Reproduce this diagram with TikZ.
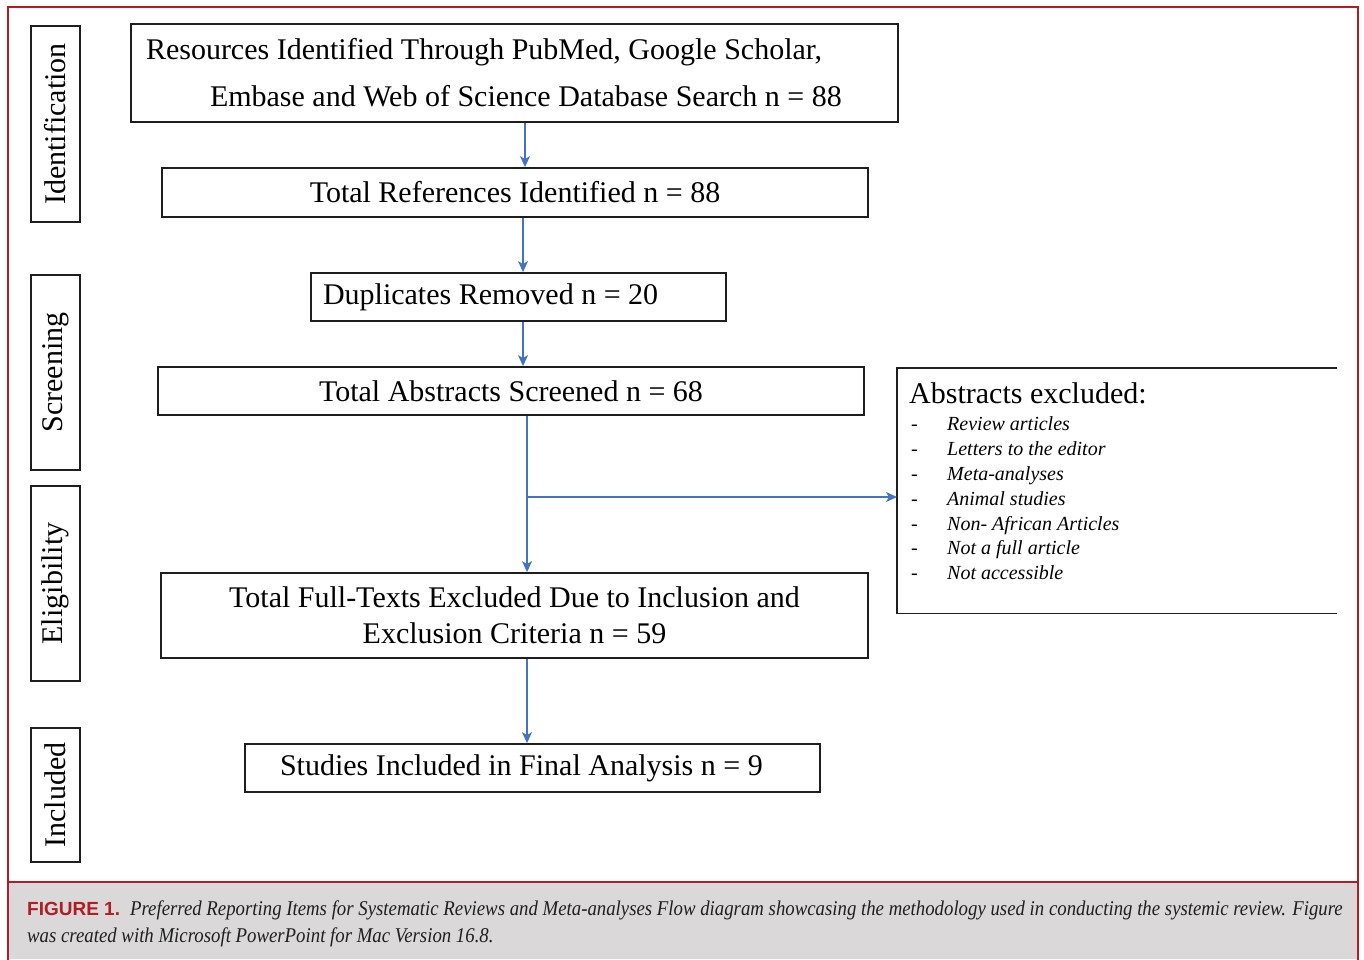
\documentclass[tikz,border=0pt]{standalone}
\usepackage{fontspec}
\setmainfont{Liberation Serif}
\setsansfont{Liberation Sans}
\newfontfamily\capfont[FakeStretch=0.895]{Liberation Serif}
\usetikzlibrary{arrows.meta}
\definecolor{figred}{RGB}{176,30,36}
\definecolor{capgray}{RGB}{218,216,217}
\definecolor{flowblue}{RGB}{68,114,196}
\definecolor{boxline}{RGB}{30,30,30}

\begin{document}
\begin{tikzpicture}[x=1pt,y=-1pt,
	box/.style={draw=boxline,line width=1.8pt,inner sep=0pt,align=center,
		font=\fontsize{30}{36}\selectfont},
	phase/.style={box,rotate=90,minimum height=49pt},
	flow/.style={draw=flowblue,line width=1.3pt,-{Stealth[length=11pt,width=10pt,inset=3pt]}},
	item/.style={anchor=base west,inner sep=0pt,font=\fontsize{20}{24}\selectfont}]
	\useasboundingbox (0,0) rectangle (1364,959);
	\fill[capgray] (8,882) rectangle (1358,959);
	\draw[figred,line width=2.6pt] (8,962) -- (8,7) -- (1358,7) -- (1358,962);
	\draw[figred,line width=2.4pt] (8,882) -- (1358,882);
	
	\node[phase,minimum width=196pt] (pid) at (55.5,124) {Identification};
	\node[phase,minimum width=195pt] (pscr) at (55.5,372.5) {Screening};
	\node[phase,minimum width=195pt] (pel) at (55.5,583.5) {Eligibility};
	\node[phase,minimum width=134pt] (pinc) at (55.5,795) {Included};
	
	\node[box,minimum height=98pt,text width=737pt,inner xsep=15pt,align=flush left,
		font=\fontsize{30}{47}\selectfont] (res) at (514.5,73)
		{Resources Identified Through PubMed, Google Scholar,\\
		\hspace*{64pt}Embase and Web of Science Database Search n = 88};
	\node[box,minimum width=706pt,minimum height=49pt] (tot) at (515,192.5) {Total References Identified n = 88};
	\node[box,minimum height=48pt,text width=391pt,inner xsep=12pt,align=flush left] (dup) at (518.5,297) {Duplicates Removed n = 20};
	\node[box,minimum width=706pt,minimum height=48pt] (scr) at (511,391) {Total Abstracts Screened n = 68};
	\node[box,minimum width=707pt,minimum height=85pt] (full) at (514.5,615.5)
		{Total Full-Texts Excluded Due to Inclusion and\\Exclusion Criteria n = 59};
	\node[box,minimum height=48pt,text width=505pt,inner xsep=35pt,align=flush left] (incl) at (532.5,768) {Studies Included in Final Analysis n = 9};
	
	\node[minimum width=440pt,minimum height=245pt,inner sep=0pt,anchor=north west] (excl) at (897,368) {};
	\draw[boxline,line width=1.8pt] (excl.north east) -- (excl.north west) -- (excl.south west) -- (excl.south east);
	\node[anchor=base west,inner sep=0pt,font=\fontsize{30}{36}\selectfont] (exhead) at (909,403) {Abstracts excluded:};
	\foreach \t [count=\i] in {Review articles,Letters to the editor,Meta-analyses,Animal studies,
		Non- African Articles,Not a full article,Not accessible}
		\node[item] (ex\i) at (911,405.5+24.9*\i) {\makebox[36pt][l]{-}\textit{\t}};
	
	\coordinate (a1) at (525,0);
	\coordinate (a2) at (523,0);
	\coordinate (a3) at (527,497);
	\draw[flow] (res.south -| a1) -- (tot.north -| a1);
	\draw[flow] (tot.south -| a2) -- (dup.north -| a2);
	\draw[flow] (dup.south -| a2) -- (scr.north -| a2);
	\draw[flow] (scr.south -| a3) -- (full.north -| a3);
	\draw[flow] (a3) -- (a3 -| excl.west);
	\draw[flow] (full.south -| a3) -- (incl.north -| a3);
	
	\node[anchor=base west,inner sep=0pt,align=left,text=black!88,
		font=\capfont\itshape\fontsize{21}{26.5}\selectfont] (cap) at (27,942)
		{{\normalfont\sffamily\bfseries\fontsize{19}{26.5}\selectfont\color{figred}FIGURE 1.}\hspace{10pt}Preferred Reporting Items for Systematic Reviews and Meta-analyses Flow diagram showcasing the methodology used in conducting the systemic review. Figure\\
		was created with Microsoft PowerPoint for Mac Version 16.8.};
\end{tikzpicture}
\end{document}
